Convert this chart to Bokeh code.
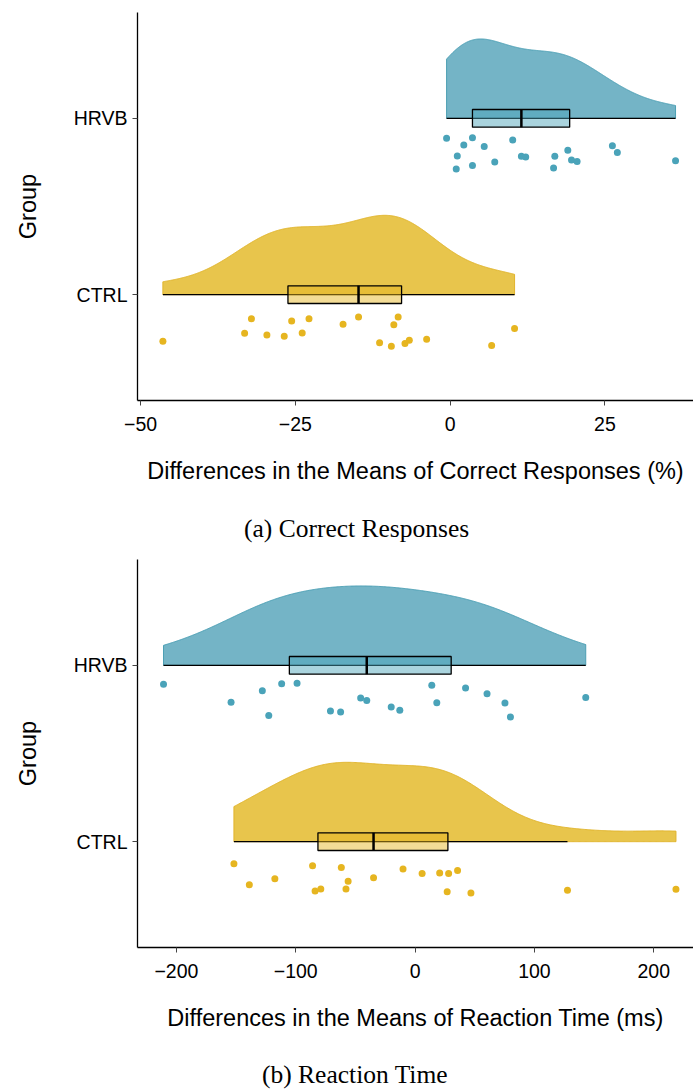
import numpy as np
from bokeh.plotting import figure
from bokeh.layouts import column
from bokeh.models import Range1d, FixedTicker, Div
from bokeh.embed import file_html
from bokeh.resources import INLINE

# ---------------- data ----------------
group_names = ["CTRL", "HRVB"]
group_pos = [1, 2]

# (a) Correct responses: differences in means (%)
cr_hrvb = [-0.58, 3.6, 2.2, 5.5, 10.1, 1.15, 3.6, 0.98, 7.2, 11.5, 12.2, 16.9,
           16.7, 19.0, 19.6, 20.5, 26.2, 27.0, 36.4]
cr_hrvb_jitter = [0.113, 0.110, 0.151, 0.160, 0.123, 0.213, 0.268, 0.288, 0.247,
                  0.215, 0.219, 0.215, 0.282, 0.181, 0.237, 0.245, 0.155, 0.194, 0.241]
cr_ctrl = [-46.4, -32.1, -33.2, -29.6, -26.8, -25.6, -22.8, -23.9, -17.3, -14.8,
           -11.4, -9.5, -9.1, -8.4, -7.3, -6.6, -3.8, 6.7, 10.4]
cr_ctrl_jitter = [0.264, 0.136, 0.219, 0.228, 0.236, 0.149, 0.136, 0.217, 0.168,
                  0.126, 0.273, 0.292, 0.170, 0.126, 0.277, 0.258, 0.252, 0.288, 0.192]

# (b) Reaction time: differences in means (ms)
rt_hrvb = [-210.8, -154.2, -128.0, -122.6, -111.8, -98.9, -70.9, -62.4, -45.6,
           -40.5, -20.0, -12.8, 14.0, 18.2, 42.3, 60.3, 75.3, 79.9, 143.0]
rt_hrvb_jitter = [0.108, 0.210, 0.144, 0.284, 0.104, 0.102, 0.259, 0.264, 0.185,
                  0.199, 0.236, 0.255, 0.113, 0.212, 0.128, 0.161, 0.213, 0.293, 0.182]
rt_ctrl = [-151.8, -138.9, -117.5, -85.9, -83.8, -79.0, -61.8, -57.9, -56.1,
           -34.8, -10.1, 5.9, 20.6, 26.9, 28.1, 35.6, 46.8, 127.7, 218.6]
rt_ctrl_jitter = [0.125, 0.244, 0.210, 0.136, 0.280, 0.268, 0.146, 0.268, 0.225,
                  0.204, 0.155, 0.180, 0.178, 0.284, 0.180, 0.163, 0.291, 0.276, 0.270]

cr_ticks = [-50, -25, 0, 25]
rt_ticks = [-200, -100, 0, 100, 200]

# ---------------- styles ----------------
POINT = {"CTRL": "#e6b520", "HRVB": "#4aa3b9"}
VFILL = {"CTRL": "#e8c54c", "HRVB": "#74b4c6"}
VLINE = {"CTRL": "#e0b42c", "HRVB": "#4c9fb4"}
SANS = "Liberation Sans"
SERIF = "Liberation Serif"


def kde(vals):
    v = np.asarray(vals, float)
    n = len(v)
    sd = v.std(ddof=1)
    q1, q3 = np.percentile(v, [25, 75])
    bw = 0.9 * min(sd, (q3 - q1) / 1.34) * n ** -0.2
    grid = np.linspace(v.min(), v.max(), 512)
    d = np.exp(-0.5 * ((grid[:, None] - v[None, :]) / bw) ** 2).sum(axis=1)
    d = d / (n * bw * np.sqrt(2 * np.pi))
    return grid, d


def raincloud(p, vals, jitter, ypos, name):
    v = np.asarray(vals, float)
    grid, d = kde(v)
    h = d / d.max() * 0.45
    xs = np.concatenate([grid, grid[::-1]])
    ys = np.concatenate([ypos + h, np.full(len(grid), float(ypos))])
    p.patch(xs, ys, fill_color=VFILL[name], line_color=VLINE[name], line_width=1)
    q1, med, q3 = np.percentile(v, [25, 50, 75])
    iqr = q3 - q1
    lo = v[v >= q1 - 1.5 * iqr].min()
    hi = v[v <= q3 + 1.5 * iqr].max()
    p.segment(x0=[lo], y0=[ypos], x1=[hi], y1=[ypos], line_color="black", line_width=1.3)
    p.quad(left=[q1], right=[q3], bottom=[ypos - 0.05], top=[ypos + 0.05],
           fill_color=POINT[name], fill_alpha=0.47, line_color="black", line_width=1.3)
    p.segment(x0=[med], y0=[ypos - 0.05], x1=[med], y1=[ypos + 0.05],
              line_color="black", line_width=2.5)
    p.scatter(list(v), [ypos - j for j in jitter], size=7,
              fill_color=POINT[name], line_color=None)


def make_fig(xr, height, top, bottom, ticks, xlabel):
    p = figure(width=693, height=height, x_range=Range1d(*xr), y_range=Range1d(0.4, 2.6),
               output_backend="svg", toolbar_location=None,
               min_border_left=137, min_border_right=0,
               min_border_top=top, min_border_bottom=bottom)
    p.outline_line_color = None
    p.xgrid.visible = False
    p.ygrid.visible = False
    p.background_fill_color = "white"
    p.border_fill_color = "white"

    xa = p.xaxis[0]
    xa.ticker = FixedTicker(ticks=ticks)
    xa.axis_line_color = "black"
    xa.axis_line_width = 1.3
    xa.major_tick_line_color = "#444444"
    xa.major_tick_out = 5
    xa.major_tick_in = 0
    xa.minor_tick_line_color = None
    xa.major_label_text_font = SANS
    xa.major_label_text_font_size = "19.5px"
    xa.major_label_text_color = "black"
    xa.major_label_standoff = 11
    xa.axis_label = xlabel
    xa.axis_label_text_font = SANS
    xa.axis_label_text_font_size = "23.5px"
    xa.axis_label_text_font_style = "normal"
    xa.axis_label_text_color = "black"
    xa.axis_label_standoff = 24

    ya = p.yaxis[0]
    ya.ticker = FixedTicker(ticks=group_pos)
    ya.major_label_overrides = {pos: nm for pos, nm in zip(group_pos, group_names)}
    ya.axis_line_color = "black"
    ya.axis_line_width = 1.3
    ya.major_tick_line_color = "#444444"
    ya.major_tick_out = 5
    ya.major_tick_in = 0
    ya.minor_tick_line_color = None
    ya.major_label_text_font = SANS
    ya.major_label_text_font_size = "19.5px"
    ya.major_label_text_color = "black"
    ya.major_label_standoff = 5
    ya.axis_label = "Group"
    ya.axis_label_text_font = SANS
    ya.axis_label_text_font_size = "23.5px"
    ya.axis_label_text_font_style = "normal"
    ya.axis_label_text_color = "black"
    ya.axis_label_standoff = 30
    return p


def caption_div(text, height, line_height, indent):
    return Div(text=text, width=693, height=height, margin=0,
               styles={"font-family": SERIF, "font-size": "25.5px",
                       "line-height": f"{line_height}px", "text-indent": f"{indent}px",
                       "color": "black", "white-space": "nowrap", "overflow": "visible"})


p1 = make_fig((-50.5, 39.3), 500, 12, 100, cr_ticks,
              "Differences in the Means of Correct Responses (%)")
raincloud(p1, cr_hrvb, cr_hrvb_jitter, group_pos[1], "HRVB")
raincloud(p1, cr_ctrl, cr_ctrl_jitter, group_pos[0], "CTRL")
cap_a = caption_div("(a) Correct Responses", 58, 58, 244)

p2 = make_fig((-232.6, 233.3), 489, 1, 100, rt_ticks,
              "Differences in the Means of Reaction Time (ms)")
raincloud(p2, rt_hrvb, rt_hrvb_jitter, group_pos[1], "HRVB")
raincloud(p2, rt_ctrl, rt_ctrl_jitter, group_pos[0], "CTRL")
cap_b = caption_div("(b) Reaction Time", 43, 56, 262)

layout = column(p1, cap_a, p2, cap_b, spacing=0)
with open("out.html", "w") as f:
    f.write(file_html(layout, INLINE))
